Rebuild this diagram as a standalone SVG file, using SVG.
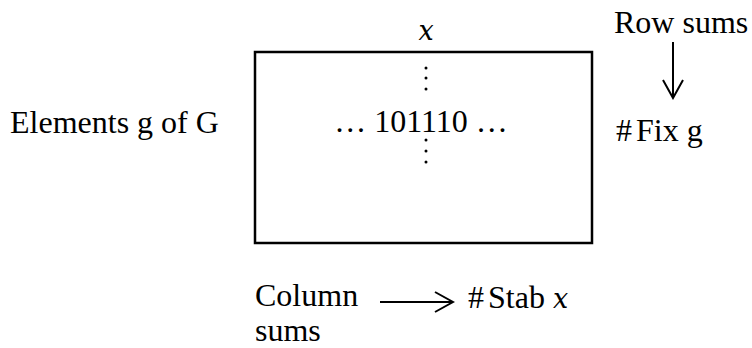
<svg xmlns="http://www.w3.org/2000/svg" width="752" height="348" viewBox="0 0 752 348">
<style>
.t{font-family:"Liberation Serif","Times New Roman",serif;font-size:32px;fill:#000}
.m{font-family:"DejaVu Serif","Liberation Serif",serif;font-style:italic;font-size:27px;fill:#000}
.ln{stroke:#000;stroke-width:2;fill:none}
</style>
<defs>
<marker id="ah" viewBox="0 0 22 24" refX="20" refY="12" markerWidth="22" markerHeight="24" markerUnits="userSpaceOnUse" orient="auto">
<path d="M2,2 L20,12 L2,22" fill="none" stroke="#000" stroke-width="2"/>
</marker>
</defs>
<g id="matrix">
<rect x="255" y="52" width="337" height="191" fill="none" stroke="#000" stroke-width="2.5"/>
<text class="t" x="421" y="132" text-anchor="middle">… 101110 …</text>
<g fill="#000">
<circle cx="426" cy="68" r="1.5"/><circle cx="426" cy="78" r="1.5"/><circle cx="426" cy="89" r="1.5"/>
<circle cx="426" cy="140" r="1.5"/><circle cx="426" cy="151" r="1.5"/><circle cx="426" cy="162" r="1.5"/>
</g>
</g>
<g id="x-label"><text class="m" x="426" y="40" text-anchor="middle">x</text></g>
<g id="elements"><text class="t" x="10" y="133">Elements g of G</text></g>
<g id="row-sums"><text class="t" x="614" y="33">Row sums</text></g>
<g id="fix-g"><text class="t" x="616" y="141">#<tspan dx="4">Fix g</tspan></text></g>
<g id="column-sums"><text class="t" x="255" y="306">Column</text><text class="t" x="255" y="341">sums</text></g>
<g id="stab-x"><text class="t" x="468" y="308">#<tspan dx="4">Stab </tspan><tspan class="m">x</tspan></text></g>
<g id="connectors">
<line class="ln" x1="673" y1="42" x2="673" y2="98" marker-end="url(#ah)"/>
<line class="ln" x1="380" y1="302" x2="453" y2="302" marker-end="url(#ah)"/>
</g>
</svg>
